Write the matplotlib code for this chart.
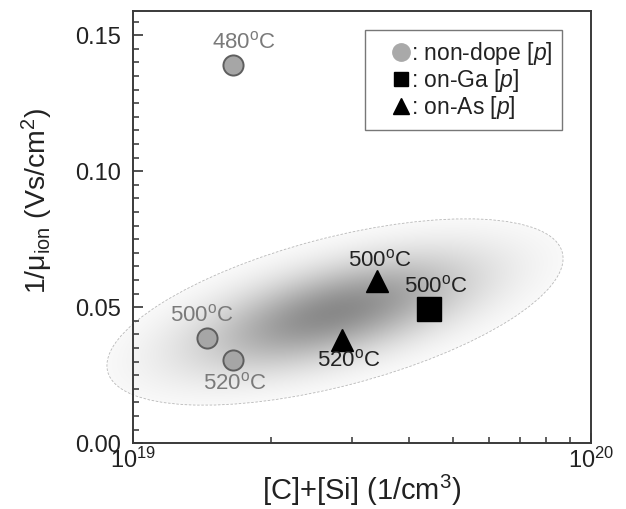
import numpy as np
import matplotlib
matplotlib.use('Agg')
import matplotlib.pyplot as plt
from matplotlib.patches import Ellipse
from matplotlib.lines import Line2D
from matplotlib.ticker import MultipleLocator, NullFormatter, FormatStrFormatter, LogLocator

# values
nondope_x = [1.65e19, 1.45e19, 1.65e19]
nondope_y = [0.139, 0.0387, 0.0306]
nondope_temp = ['480', '500', '520']

onga_x = [4.43e19]
onga_y = [0.0495]
onga_temp = ['500']

onas_x = [3.41e19, 2.86e19]
onas_y = [0.0596, 0.0381]
onas_temp = ['500', '520']

legend_labels = [': non-dope [$\\mathit{p}$]', ': on-Ga [$\\mathit{p}$]', ': on-As [$\\mathit{p}$]']

# label offsets (points) for the temperature texts
nondope_off = [(8, 16), (-4, 16), (1.5, -17)]
onga_off = [(5, 16)]
onas_off = [(2, 15), (5, -15)]

plt.rcParams['font.family'] = ['Liberation Sans', 'DejaVu Sans']
plt.rcParams['mathtext.fontset'] = 'custom'
plt.rcParams['mathtext.rm'] = 'Liberation Sans'
plt.rcParams['mathtext.it'] = 'Liberation Sans:italic'
plt.rcParams['mathtext.default'] = 'regular'

W, H = 626, 509
fig = plt.figure(figsize=(W / 100, H / 100), dpi=100)

# shaded ellipse behind the data (pixel coordinates)
bg = fig.add_axes([0, 0, 1, 1], zorder=0)
cx, cy, a, b, ang = 335, 312, 235, 74, 14.7
yy, xx = np.mgrid[0:H, 0:W] + 0.5
th = np.deg2rad(ang)
dx = xx - cx
dY = -(yy - cy)
u = dx * np.cos(th) + dY * np.sin(th)
v = -dx * np.sin(th) + dY * np.cos(th)
r2 = (u / a) ** 2 + (v / b) ** 2
gray = 1 - 0.46 * np.exp(-r2 / 0.34)
rgba = np.ones((H, W, 4))
rgba[..., 0] = gray
rgba[..., 1] = gray
rgba[..., 2] = gray
rgba[..., 3] = (r2 <= 1).astype(float)
bg.imshow(rgba, extent=(0, W, H, 0), interpolation='bilinear', aspect='auto')
bg.add_patch(Ellipse((cx, cy), 2 * a, 2 * b, angle=-ang, fill=False,
                     ec='#b8b8b8', lw=0.6, ls=(0, (3, 2))))
bg.set_xlim(0, W)
bg.set_ylim(H, 0)
bg.axis('off')

ax = fig.add_axes([133.3 / W, 1 - 443.3 / H, 457.4 / W, 432.6 / H], zorder=1)
ax.set_facecolor('none')

txt = '#222222'
gtxt = '#7a7a7a'

ax.plot(nondope_x, nondope_y, 'o', ms=14.5, mfc='#a6a6a6', mec='#5e5e5e', mew=1.4, ls='none')
ax.plot(onga_x, onga_y, 's', ms=17, mfc='black', mec='black', ls='none')
ax.plot(onas_x, onas_y, '^', ms=16, mfc='black', mec='black', ls='none')

def label_points(xs, ys, temps, offs, color):
    for x, y, t, o in zip(xs, ys, temps, offs):
        ax.annotate(t + '$^{o}$C', (x, y), xytext=o, textcoords='offset points',
                    ha='center', va='center', fontsize=16, color=color)

label_points(nondope_x, nondope_y, nondope_temp, nondope_off, gtxt)
label_points(onga_x, onga_y, onga_temp, onga_off, txt)
label_points(onas_x, onas_y, onas_temp, onas_off, txt)

ax.set_xscale('log')
ax.set_xlim(1e19, 1e20)
ax.set_ylim(0, 0.159)
ax.xaxis.set_major_locator(LogLocator(base=10))
ax.xaxis.set_minor_locator(LogLocator(base=10, subs=np.arange(2, 10)))
ax.xaxis.set_minor_formatter(NullFormatter())
ax.yaxis.set_major_locator(MultipleLocator(0.05))
ax.yaxis.set_minor_locator(MultipleLocator(0.005))
ax.yaxis.set_major_formatter(FormatStrFormatter('%.2f'))

ax.tick_params(which='both', direction='in', top=False, right=False,
               colors='#333333', labelcolor=txt, labelsize=17)
ax.tick_params(which='major', length=7, width=1.2)
ax.tick_params(which='minor', length=4.5, width=1.1)
ax.tick_params(axis='y', pad=9)
ax.tick_params(axis='x', pad=3)
for s in ax.spines.values():
    s.set_linewidth(1.4)
    s.set_color('#3a3a3a')

ax.set_xlabel('[C]+[Si] (1/cm$^{3}$)', fontsize=21, color=txt, labelpad=0)
ax.set_ylabel('1/μ$_{ion}$ (Vs/cm$^{2}$)', fontsize=20.5, color=txt)
ax.yaxis.set_label_coords(-0.172, 0.56)

handles = [
    Line2D([], [], marker='o', ls='none', ms=12.5, mfc='#a9a9a9', mec='#a9a9a9'),
    Line2D([], [], marker='s', ls='none', ms=10.5, mfc='black', mec='black'),
    Line2D([], [], marker='^', ls='none', ms=11.5, mfc='black', mec='black'),
]
leg = ax.legend(handles, legend_labels, loc='upper right', bbox_to_anchor=(0.937, 0.955),
                borderaxespad=0, fontsize=16.5, frameon=True, fancybox=False,
                handlelength=2.3, handletextpad=-0.73, labelspacing=0.0,
                borderpad=0.42, labelcolor=txt)
leg.get_frame().set_edgecolor('#555555')
leg.get_frame().set_linewidth(1.0)

fig.savefig('out.png', dpi=100)
